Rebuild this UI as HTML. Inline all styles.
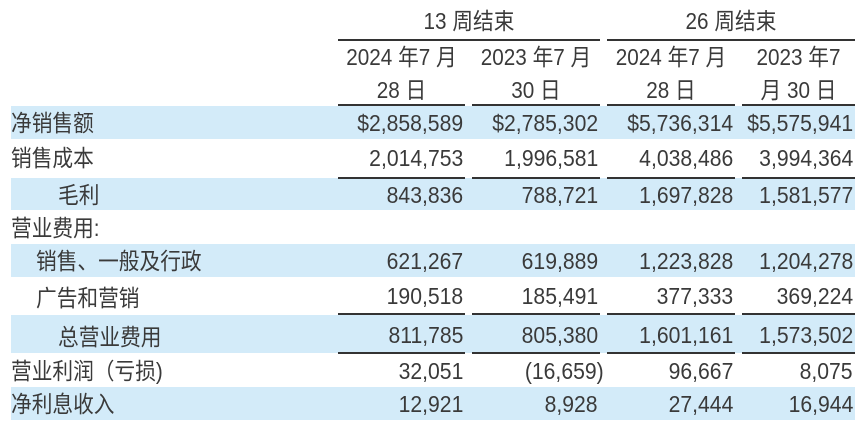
<!DOCTYPE html>
<html><head><meta charset="utf-8"><style>
body{margin:0;width:865px;height:423px;background:#fff;position:relative;overflow:hidden;font-family:"Liberation Sans","Noto Sans CJK SC",sans-serif;color:#3a3a3a;font-size:23px}
.b{position:absolute;left:11px;width:844px;background:#d3ebf9}
.l{position:absolute;height:2px;background:#333}
.t{position:absolute;white-space:nowrap;line-height:24px;transform:scaleX(.9);transform-origin:left center}
.r{position:absolute;white-space:nowrap;line-height:24px;text-align:right;transform:scaleX(.92);transform-origin:right center}
.c{position:absolute;white-space:nowrap;line-height:24px;text-align:center;transform:scaleX(.9);transform-origin:center center}
</style></head><body>
<div class="b" style="top:106px;height:33px"></div>
<div class="b" style="top:178px;height:32px"></div>
<div class="b" style="top:244px;height:33px"></div>
<div class="b" style="top:315px;height:38px"></div>
<div class="b" style="top:387px;height:33px"></div>

<div class="c" style="left:338px;width:262px;top:9px">13 周结束</div>
<div class="c" style="left:607px;width:248px;top:9px">26 周结束</div>
<div class="l" style="left:338px;width:262px;top:39px"></div>
<div class="l" style="left:607px;width:248px;top:39px"></div>

<div class="c" style="left:338px;width:127px;top:45px">2024 年7 月</div>
<div class="c" style="left:472px;width:128px;top:45px">2023 年7 月</div>
<div class="c" style="left:607px;width:128px;top:45px">2024 年7 月</div>
<div class="c" style="left:742px;width:113px;top:45px">2023 年7</div>
<div class="c" style="left:338px;width:127px;top:78px">28 日</div>
<div class="c" style="left:472px;width:128px;top:78px">30 日</div>
<div class="c" style="left:607px;width:128px;top:78px">28 日</div>
<div class="c" style="left:742px;width:113px;top:78px">月 30 日</div>

<div class="l" style="left:338px;width:127px;top:104px"></div>
<div class="l" style="left:472px;width:128px;top:104px"></div>
<div class="l" style="left:607px;width:128px;top:104px"></div>
<div class="l" style="left:742px;width:113px;top:104px"></div>

<div class="l" style="left:338px;width:127px;top:177px"></div>
<div class="l" style="left:472px;width:128px;top:177px"></div>
<div class="l" style="left:607px;width:128px;top:177px"></div>
<div class="l" style="left:742px;width:113px;top:177px"></div>

<div class="l" style="left:338px;width:127px;top:313px"></div>
<div class="l" style="left:472px;width:128px;top:313px"></div>
<div class="l" style="left:607px;width:128px;top:313px"></div>
<div class="l" style="left:742px;width:113px;top:313px"></div>

<div class="l" style="left:338px;width:127px;top:352px"></div>
<div class="l" style="left:472px;width:128px;top:352px"></div>
<div class="l" style="left:607px;width:128px;top:352px"></div>
<div class="l" style="left:742px;width:113px;top:352px"></div>

<div class="t" style="left:11px;top:111px">净销售额</div>
<div class="t" style="left:11px;top:146px">销售成本</div>
<div class="t" style="left:58px;top:183px">毛利</div>
<div class="t" style="left:11px;top:216px">营业费用:</div>
<div class="t" style="left:36px;top:249px">销售、一般及行政</div>
<div class="t" style="left:36px;top:286px">广告和营销</div>
<div class="t" style="left:58px;top:325px">总营业费用</div>
<div class="t" style="left:11px;top:359px">营业利润（亏损)</div>
<div class="t" style="left:11px;top:392px">净利息收入</div>

<div class="r" style="right:402px;top:111px">$2,858,589</div><div class="r" style="right:267px;top:111px">$2,785,302</div><div class="r" style="right:132px;top:111px">$5,736,314</div><div class="r" style="right:12px;top:111px">$5,575,941</div>
<div class="r" style="right:402px;top:146px">2,014,753</div><div class="r" style="right:267px;top:146px">1,996,581</div><div class="r" style="right:132px;top:146px">4,038,486</div><div class="r" style="right:12px;top:146px">3,994,364</div>
<div class="r" style="right:402px;top:183px">843,836</div><div class="r" style="right:267px;top:183px">788,721</div><div class="r" style="right:132px;top:183px">1,697,828</div><div class="r" style="right:12px;top:183px">1,581,577</div>
<div class="r" style="right:402px;top:249px">621,267</div><div class="r" style="right:267px;top:249px">619,889</div><div class="r" style="right:132px;top:249px">1,223,828</div><div class="r" style="right:12px;top:249px">1,204,278</div>
<div class="r" style="right:402px;top:284px">190,518</div><div class="r" style="right:267px;top:284px">185,491</div><div class="r" style="right:132px;top:284px">377,333</div><div class="r" style="right:12px;top:284px">369,224</div>
<div class="r" style="right:402px;top:323px">811,785</div><div class="r" style="right:267px;top:323px">805,380</div><div class="r" style="right:132px;top:323px">1,601,161</div><div class="r" style="right:12px;top:323px">1,573,502</div>
<div class="r" style="right:402px;top:359px">32,051</div><div class="r" style="right:261px;top:359px">(16,659)</div><div class="r" style="right:132px;top:359px">96,667</div><div class="r" style="right:12px;top:359px">8,075</div>
<div class="r" style="right:402px;top:392px">12,921</div><div class="r" style="right:267px;top:392px">8,928</div><div class="r" style="right:132px;top:392px">27,444</div><div class="r" style="right:12px;top:392px">16,944</div>
</body></html>
